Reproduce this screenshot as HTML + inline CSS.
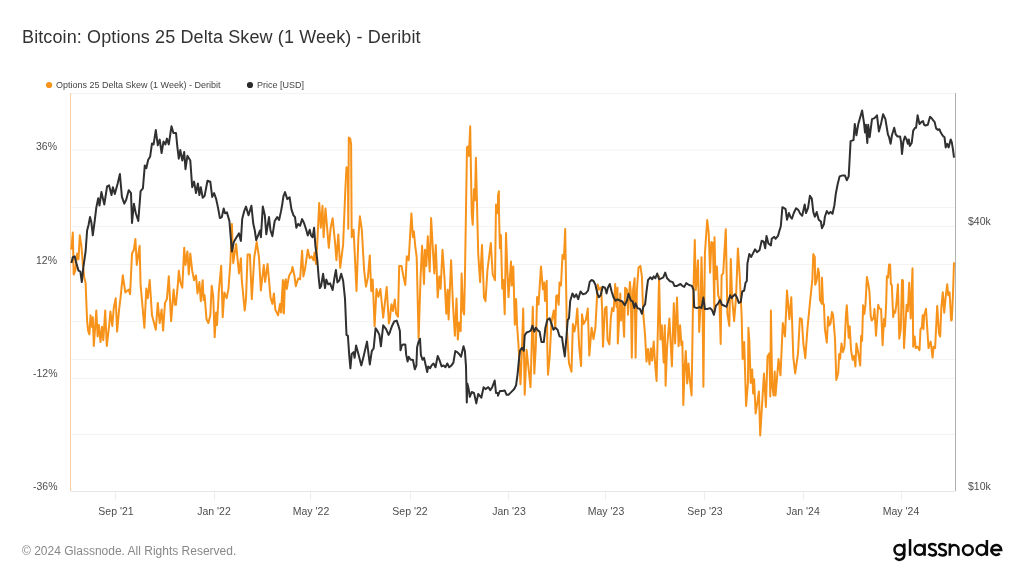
<!DOCTYPE html>
<html><head><meta charset="utf-8"><style>
html,body{margin:0;padding:0;background:#fff;}
body{width:1024px;height:576px;position:relative;overflow:hidden;font-family:"Liberation Sans",sans-serif;}
.t{position:absolute;white-space:nowrap;line-height:1;will-change:transform;}
</style></head><body>
<svg width="1024" height="576" viewBox="0 0 1024 576" style="position:absolute;left:0;top:0"><g stroke="#f3f3f3" stroke-width="1"><line x1="70.5" y1="93.5" x2="955.5" y2="93.5"/><line x1="70.5" y1="150.0" x2="955.5" y2="150.0"/><line x1="70.5" y1="207.5" x2="955.5" y2="207.5"/><line x1="70.5" y1="226.5" x2="955.5" y2="226.5"/><line x1="70.5" y1="264.5" x2="955.5" y2="264.5"/><line x1="70.5" y1="321.5" x2="955.5" y2="321.5"/><line x1="70.5" y1="359.5" x2="955.5" y2="359.5"/><line x1="70.5" y1="378.5" x2="955.5" y2="378.5"/><line x1="70.5" y1="434.5" x2="955.5" y2="434.5"/></g><line x1="70.5" y1="491.5" x2="955.5" y2="491.5" stroke="#e6e6e6" stroke-width="1"/><line x1="115.5" y1="492" x2="115.5" y2="500" stroke="#eeeeee" stroke-width="1"/><line x1="214.5" y1="492" x2="214.5" y2="500" stroke="#eeeeee" stroke-width="1"/><line x1="310.5" y1="492" x2="310.5" y2="500" stroke="#eeeeee" stroke-width="1"/><line x1="410.5" y1="492" x2="410.5" y2="500" stroke="#eeeeee" stroke-width="1"/><line x1="508.5" y1="492" x2="508.5" y2="500" stroke="#eeeeee" stroke-width="1"/><line x1="605.5" y1="492" x2="605.5" y2="500" stroke="#eeeeee" stroke-width="1"/><line x1="704.5" y1="492" x2="704.5" y2="500" stroke="#eeeeee" stroke-width="1"/><line x1="803.5" y1="492" x2="803.5" y2="500" stroke="#eeeeee" stroke-width="1"/><line x1="901.5" y1="492" x2="901.5" y2="500" stroke="#eeeeee" stroke-width="1"/><line x1="70.5" y1="93" x2="70.5" y2="491" stroke="#fbcf9f" stroke-width="1"/><line x1="955.5" y1="93" x2="955.5" y2="491" stroke="#b0b0b0" stroke-width="1"/><polyline fill="none" stroke="#f7931a" stroke-width="2" stroke-linejoin="round" points="71.4,249.7 72.8,232.5 73.7,274.5 75.3,270.7 77.2,253.5 78.5,259.2 79.8,235.3 81.4,245.8 82.9,264.9 84.2,277.2 85.6,282.9 87.1,321.1 88.1,330.6 89.4,334.4 90.5,315.3 91.9,326.8 92.8,317.3 93.8,345.9 96.3,310.6 97.6,336.4 98.9,324.9 100.5,342.1 102.0,326.8 103.3,340.2 105.2,310.6 106.8,345.9 109.1,325.9 110.4,311.5 112.3,325.9 113.8,307.7 115.7,298.2 117.1,331.6 119.2,308.7 120.5,298.2 122.8,275.2 125.3,292.4 128.7,289.6 130.1,294.3 132.0,253.5 133.9,249.7 135.4,239.1 136.8,264.9 139.6,245.8 140.6,284.8 144.4,327.8 146.3,288.6 147.8,298.2 149.7,280.0 152.0,315.3 155.8,329.7 157.8,302.9 159.7,323.0 161.6,309.6 163.1,330.6 165.0,302.9 166.9,299.1 168.8,276.2 171.1,321.1 173.6,289.6 175.0,304.8 175.9,304.8 177.9,283.8 178.8,270.7 180.3,281.9 182.3,287.7 184.2,247.7 185.5,264.9 187.4,251.6 188.8,274.5 190.3,253.5 192.2,270.7 194.1,280.2 196.0,275.4 197.5,293.4 199.4,282.1 200.8,301.2 202.7,280.2 203.6,300.1 204.6,295.3 206.5,319.2 208.4,323.0 210.3,315.3 211.7,285.7 213.2,296.2 214.7,337.3 216.1,312.5 217.0,324.9 218.9,290.5 221.2,265.7 222.7,317.3 224.3,292.4 226.6,298.2 228.5,288.6 230.4,261.9 231.9,223.9 233.2,263.0 236.1,243.9 239.0,273.5 240.9,258.2 241.8,280.2 244.7,310.6 246.0,299.1 247.6,254.4 249.9,254.4 251.8,299.1 254.3,257.3 256.7,242.0 259.0,257.3 260.9,290.5 263.8,264.9 265.1,281.9 267.6,264.0 270.5,297.2 272.4,303.9 273.9,293.4 275.3,309.6 278.1,315.3 280.0,303.9 281.0,312.5 282.9,280.0 283.5,312.9 283.9,313.4 284.9,281.4 285.0,282.9 285.8,279.3 286.8,289.0 288.7,277.6 289.6,274.5 291.5,271.9 292.5,266.9 294.4,275.5 295.8,286.2 298.2,278.4 300.1,279.3 302.1,250.7 303.4,276.4 304.9,269.8 307.8,249.7 309.7,258.3 311.6,256.4 313.5,260.2 314.5,252.6 316.0,264.0 317.3,243.0 319.2,202.9 320.8,227.7 322.5,205.8 323.6,237.3 325.5,208.6 328.8,247.8 330.7,227.7 332.6,218.2 335.1,243.0 336.4,260.2 338.3,234.4 340.2,267.8 343.1,244.9 345.4,188.2 346.5,167.2 347.9,168.2 348.3,228.7 348.8,137.6 350.2,138.6 351.1,144.3 351.7,237.3 353.6,229.7 356.5,291.0 358.4,237.3 359.9,216.3 361.8,229.7 364.1,269.8 366.0,286.6 367.9,277.4 369.8,255.4 371.2,291.0 372.7,279.5 374.6,326.3 376.5,289.0 378.4,296.7 380.4,289.0 383.2,317.7 386.7,287.1 388.9,323.4 390.0,318.6 390.9,308.1 391.5,304.3 392.9,311.0 394.8,299.5 396.1,313.8 398.0,316.7 399.2,265.9 401.5,265.9 403.4,276.4 405.3,285.0 406.8,256.3 408.7,260.2 411.4,213.4 412.9,237.2 413.9,231.5 415.2,245.8 416.7,257.3 418.6,338.6 420.6,276.4 422.1,245.8 424.0,284.0 424.9,249.7 426.3,265.9 427.8,236.3 429.7,271.6 431.1,218.1 433.0,251.6 434.3,273.5 435.8,244.9 437.7,297.4 439.3,276.4 440.6,288.8 442.5,249.7 444.4,276.4 446.3,313.8 447.7,289.8 448.6,319.5 451.1,260.2 453.0,305.2 454.9,335.8 456.5,298.5 457.8,339.6 459.3,322.4 460.7,331.0 461.6,273.5 463.0,310.0 464.1,314.6 464.9,278.3 467.0,147.3 468.3,146.3 468.9,155.9 470.2,126.3 471.7,213.2 472.7,224.8 474.0,189.3 475.0,200.2 475.9,157.8 478.2,253.5 480.1,282.1 482.0,244.9 484.0,297.4 485.5,301.2 487.4,270.7 490.8,243.0 492.7,274.5 495.0,280.2 496.0,204.6 497.9,213.2 498.0,195.7 498.9,191.2 499.0,212.9 499.9,248.2 500.9,234.9 502.2,288.4 503.3,279.9 504.7,314.3 506.0,233.0 507.2,266.4 508.5,297.1 511.0,261.6 511.8,285.5 513.3,266.4 514.8,324.8 516.1,299.0 517.1,325.8 518.6,346.8 520.5,384.2 521.9,349.8 523.2,308.6 524.7,394.7 526.6,349.8 528.6,368.9 530.5,387.1 532.8,306.7 534.3,373.7 535.8,346.8 537.1,296.9 538.5,304.6 541.0,266.4 542.9,289.3 544.2,282.6 545.0,301.0 546.7,280.7 547.3,346.8 548.0,374.7 549.6,357.5 551.5,322.0 553.8,310.5 555.3,327.7 556.2,296.0 557.2,295.2 558.7,304.8 559.5,282.6 561.0,285.5 562.5,254.9 563.9,258.8 565.2,229.1 566.8,327.7 569.0,363.2 571.5,371.8 572.9,323.9 574.4,331.5 575.9,323.9 577.3,308.6 579.2,346.8 581.1,366.1 582.0,314.3 583.6,323.9 585.8,320.1 587.8,308.6 589.3,355.6 591.6,327.7 593.5,339.1 595.4,327.7 596.9,299.0 597.7,284.5 599.2,289.5 601.1,287.4 602.1,308.6 603.0,346.8 604.9,308.6 606.0,307.1 606.5,306.7 607.5,339.6 609.4,344.4 610.8,318.6 612.1,308.1 613.6,311.0 615.2,284.0 615.9,301.4 616.5,306.9 617.5,287.8 617.8,343.4 619.4,314.8 620.3,293.6 620.9,320.5 622.2,301.4 624.1,336.7 625.1,287.8 627.0,289.8 628.0,314.8 629.9,282.1 630.8,291.7 631.8,357.7 633.1,289.9 634.6,278.3 635.6,357.7 636.9,289.9 638.5,267.8 640.4,265.9 641.9,276.4 643.2,312.9 645.1,335.8 646.5,361.6 648.0,349.1 649.5,364.4 650.9,348.2 652.2,360.6 653.7,341.5 655.3,366.3 656.6,381.0 657.9,328.1 659.1,276.4 660.4,339.6 661.8,325.3 663.7,362.5 664.8,325.3 665.6,385.8 667.1,347.2 669.4,318.6 671.9,366.3 673.8,303.3 675.1,343.4 677.0,297.6 678.6,346.3 680.1,325.3 681.4,345.3 682.4,341.5 683.3,404.9 684.7,366.3 685.8,351.1 687.2,383.5 688.5,363.5 690.0,381.6 691.6,395.4 692.9,309.0 694.8,240.1 695.8,289.9 696.7,282.1 698.0,260.2 699.2,332.0 700.5,305.2 701.5,257.3 702.4,289.9 703.4,386.8 704.9,253.5 707.2,220.1 708.7,232.5 710.1,272.6 711.4,242.0 712.9,243.0 714.4,311.6 714.5,237.2 715.5,279.1 716.9,266.5 718.2,295.3 719.3,298.2 720.7,344.0 721.6,275.1 723.2,273.4 724.5,250.5 725.8,229.3 727.4,313.5 729.3,325.9 730.8,258.9 732.1,298.2 734.1,321.1 736.0,298.2 737.9,248.4 739.8,277.2 741.7,317.3 742.6,359.1 744.2,342.1 746.1,405.9 748.0,382.0 748.4,327.8 749.3,340.0 750.7,383.0 752.2,369.6 753.1,393.5 754.1,379.2 755.6,413.5 757.0,404.9 758.9,391.6 760.2,435.5 761.7,410.7 764.0,373.4 765.9,406.9 767.5,356.2 769.4,353.4 770.3,396.4 770.9,310.6 772.2,385.9 773.6,395.4 774.7,371.5 775.5,395.4 777.0,378.2 778.5,359.1 780.5,375.3 782.8,323.0 785.0,336.4 787.0,290.6 789.4,319.2 791.3,297.2 793.3,357.2 795.2,373.4 798.0,353.4 799.9,318.2 801.8,319.2 803.4,344.0 805.3,358.2 807.6,326.8 809.1,311.6 810.4,298.2 812.4,279.1 813.3,254.1 814.8,256.9 815.2,284.8 816.7,280.1 818.1,268.4 819.0,273.2 820.0,300.1 821.9,303.9 822.0,277.8 823.0,303.4 823.9,304.4 824.9,329.2 826.8,342.6 828.1,316.8 829.3,325.4 830.6,323.5 831.9,312.0 833.1,314.9 835.0,338.8 836.3,380.0 838.2,373.1 839.2,354.0 840.1,358.8 841.5,343.5 843.0,352.1 844.5,346.4 845.9,315.8 846.8,305.3 848.7,337.8 849.7,326.3 851.0,349.3 852.6,359.8 854.1,355.9 855.4,366.4 856.4,343.5 858.3,353.1 860.2,365.5 861.1,335.9 862.1,340.7 863.1,305.3 864.4,313.9 865.5,304.4 866.9,276.9 868.2,283.6 869.4,291.0 870.7,315.8 871.7,320.6 873.6,317.7 874.5,309.1 876.0,335.8 878.2,304.7 879.2,308.3 881.1,309.1 882.6,345.2 884.0,319.0 885.0,326.3 886.2,302.5 886.9,276.2 888.0,277.7 889.1,264.6 890.1,264.6 890.9,284.3 891.8,285.0 893.2,317.1 894.2,311.2 895.2,312.7 896.4,304.0 897.9,284.3 899.3,338.7 900.8,328.5 902.0,279.9 903.0,280.6 904.0,348.1 906.6,304.7 907.8,311.2 909.2,282.8 910.7,318.5 912.5,268.2 913.2,346.7 914.6,336.5 915.7,348.1 917.6,346.7 919.5,350.3 920.5,329.2 921.9,327.0 922.7,315.3 923.4,329.2 924.1,316.1 926.0,308.8 928.5,348.1 930.7,341.6 932.6,357.6 933.6,346.7 935.1,348.1 937.2,305.9 939.0,333.6 940.2,336.5 941.3,308.3 942.8,292.3 944.2,312.7 945.7,296.7 947.2,284.3 948.2,295.2 949.6,292.3 951.1,320.4 951.8,320.0 953.0,293.8 954.0,262.4"/><polyline fill="none" stroke="#303030" stroke-width="2" stroke-linejoin="round" points="71.4,263.0 72.8,257.2 74.7,256.3 76.0,262.0 78.5,270.6 80.4,271.6 81.8,282.1 83.3,267.7 85.6,251.5 87.1,230.5 88.6,224.8 90.0,217.1 91.3,221.9 92.8,235.3 94.7,221.0 96.3,207.6 98.2,198.2 99.5,205.5 101.4,192.1 104.3,204.5 107.1,186.4 109.1,185.4 111.5,195.0 112.9,187.3 114.8,194.0 117.7,183.5 119.9,174.0 121.9,196.9 124.3,203.6 126.2,199.8 128.7,190.2 131.0,193.1 132.0,222.9 133.9,203.8 135.8,213.3 138.3,221.0 140.6,191.2 142.9,188.3 144.8,165.4 146.3,168.2 148.2,159.7 150.1,156.8 152.0,143.4 153.6,144.4 155.8,130.1 157.8,145.3 159.7,139.6 161.6,153.0 163.5,141.5 165.4,144.4 166.9,138.6 168.8,144.4 171.5,126.2 173.4,132.9 175.9,132.9 176.0,132.9 177.3,146.3 178.8,158.7 180.3,150.1 182.3,160.6 184.2,152.0 185.5,169.2 187.4,155.8 190.3,160.6 192.2,187.3 194.1,181.6 196.0,193.1 197.9,183.5 199.4,195.0 200.8,187.3 202.7,197.8 204.6,195.9 207.5,180.7 210.3,181.6 212.2,196.9 214.1,193.1 216.1,198.8 218.0,207.6 219.9,218.1 221.8,217.1 223.7,208.5 225.0,213.3 226.9,212.4 229.4,221.0 230.8,238.1 231.9,251.5 233.8,242.0 236.1,238.1 239.0,233.4 240.9,241.0 242.2,219.0 244.1,211.4 246.0,206.6 248.5,215.2 251.4,205.7 253.3,223.8 254.8,230.5 256.2,240.1 258.1,235.3 260.0,230.5 260.9,237.2 262.8,206.6 264.8,215.2 266.3,234.3 269.0,217.1 270.5,230.5 272.4,236.2 274.7,221.0 277.2,217.1 279.1,220.0 281.0,211.4 282.0,205.8 283.5,195.9 283.9,195.3 285.0,192.1 285.4,193.4 287.3,199.1 289.6,197.2 291.5,209.6 293.5,215.3 295.0,217.2 296.3,227.7 298.2,223.9 300.1,225.8 302.1,219.1 304.0,223.0 305.9,228.7 307.8,235.4 309.7,229.7 311.0,235.4 312.6,237.3 314.1,227.7 315.4,245.9 317.3,260.2 318.7,277.6 319.8,288.1 321.1,286.2 323.1,273.8 325.0,288.1 326.3,279.5 328.2,284.3 330.1,283.3 332.6,290.0 334.5,277.6 335.9,269.9 337.4,282.4 339.3,280.5 341.2,273.8 343.1,280.5 345.0,298.6 346.5,334.9 347.9,335.8 349.2,354.9 350.4,368.3 351.7,354.0 353.6,352.1 354.6,357.8 356.1,345.4 358.4,354.0 361.3,365.4 363.7,355.9 367.0,341.6 369.8,364.5 371.8,351.1 373.7,348.2 375.6,328.2 377.5,331.1 379.4,334.9 380.9,346.3 383.2,325.3 386.1,329.1 388.6,334.9 390.0,332.0 390.5,330.1 391.9,326.3 394.2,321.5 396.7,320.6 398.6,326.3 399.9,331.1 400.5,350.2 401.8,345.4 403.4,344.4 405.3,344.4 406.2,354.9 407.6,361.6 408.7,356.8 410.6,359.7 412.9,359.7 414.8,369.3 416.4,365.4 417.1,347.3 418.6,341.6 420.0,338.7 420.9,354.9 422.5,359.7 424.0,357.8 425.3,363.5 427.2,372.1 428.2,366.4 430.1,368.3 431.6,365.4 433.5,363.5 435.5,367.3 437.7,355.9 439.7,360.7 441.6,366.4 443.5,365.4 445.4,367.3 447.3,363.5 449.2,367.3 451.5,365.4 453.4,362.6 455.3,351.1 457.2,352.1 459.1,354.0 461.0,356.8 463.5,346.3 464.9,351.1 466.0,366.4 466.8,402.5 467.3,383.4 468.7,389.1 469.8,396.8 471.7,392.0 474.0,392.9 476.3,403.4 478.2,393.9 481.3,397.7 483.6,387.2 485.5,389.1 488.4,387.2 490.3,390.1 492.2,387.2 494.7,380.5 496.0,392.9 497.9,392.9 498.0,395.7 499.9,391.0 502.8,391.0 504.7,390.4 506.6,394.8 508.5,394.8 511.4,391.9 514.2,389.0 516.1,385.2 517.5,374.7 519.0,359.4 520.0,350.7 521.9,347.8 523.8,350.7 524.7,335.4 526.6,332.5 528.9,331.6 530.8,330.6 532.4,325.8 534.3,331.6 535.8,327.7 538.1,330.6 539.6,331.6 541.5,342.1 543.8,342.1 545.4,327.7 547.3,320.1 549.6,318.2 551.5,323.9 553.4,329.7 555.3,327.7 557.6,329.7 559.5,336.3 562.0,337.3 563.3,346.8 564.8,356.4 566.4,337.3 567.7,320.1 569.0,318.2 570.2,301.0 572.5,293.4 574.4,297.2 576.3,294.3 578.2,299.1 580.5,291.5 583.0,294.3 585.8,293.4 588.1,290.5 589.7,281.9 591.6,280.0 593.5,281.0 595.4,284.8 597.3,293.4 598.8,297.2 600.7,295.3 602.7,286.7 604.9,287.6 606.0,290.7 606.5,293.4 607.9,287.8 609.8,284.0 611.7,291.7 613.6,297.6 615.5,300.8 617.5,299.3 619.8,300.5 622.2,301.4 624.7,305.2 627.0,300.5 628.5,293.8 630.8,300.5 632.7,301.4 634.3,308.1 635.6,303.3 637.5,308.1 640.0,309.0 641.9,313.8 643.2,307.1 645.1,304.3 646.5,291.7 648.0,280.2 650.3,277.3 652.2,279.3 653.7,276.4 655.3,278.3 657.2,273.5 659.1,279.3 661.4,278.3 663.3,277.3 665.2,272.6 667.1,278.3 670.0,281.2 672.8,282.1 674.4,285.9 677.0,285.9 680.5,284.0 682.4,285.9 684.3,286.9 686.2,283.1 689.1,285.0 691.9,285.9 693.5,289.8 694.2,307.1 696.7,308.1 699.6,307.1 701.5,308.1 703.4,297.6 704.9,309.0 707.2,309.0 710.1,308.1 712.0,310.0 713.9,314.8 714.0,314.4 715.9,305.8 717.8,303.9 720.1,300.1 722.0,304.8 724.5,305.8 726.4,306.7 728.3,301.0 730.2,295.3 731.6,298.1 733.1,296.2 735.0,294.3 736.9,297.2 738.8,302.9 740.7,302.0 742.3,291.5 744.2,290.5 745.5,282.9 746.8,281.0 747.4,263.6 749.3,254.0 751.2,256.9 753.1,253.1 755.1,249.3 757.0,252.1 759.5,250.2 761.7,240.7 763.7,241.6 765.2,248.3 766.5,235.9 768.4,243.5 770.9,245.4 771.7,238.8 774.2,236.8 775.5,238.8 778.0,235.9 779.3,231.1 780.8,226.3 782.4,207.2 784.3,208.2 785.6,209.1 787.0,219.7 788.9,213.0 790.4,216.8 791.9,218.7 793.8,213.0 796.1,208.2 798.4,210.1 800.3,213.9 802.2,215.8 804.7,204.4 806.0,213.0 808.0,208.2 809.9,195.8 811.8,198.6 813.3,212.0 814.8,216.8 816.7,212.0 818.7,219.7 820.9,221.6 821.9,228.2 823.9,224.3 824.9,216.7 826.8,211.0 828.7,213.8 830.6,211.9 832.5,213.8 834.4,205.2 835.8,193.8 837.7,184.0 839.6,176.4 842.6,175.4 844.9,175.4 846.8,180.2 848.7,176.4 850.6,141.1 853.5,140.1 854.8,123.9 856.4,135.3 858.3,123.9 860.2,117.2 862.1,110.5 864.0,122.9 865.0,132.5 865.9,124.8 867.3,143.0 868.2,124.8 869.7,137.2 872.0,119.1 874.5,118.1 877.0,115.3 878.9,131.5 881.2,122.9 883.1,114.3 885.4,119.1 887.9,134.4 889.1,137.2 890.6,143.8 892.0,135.0 894.2,127.7 895.7,134.3 897.6,136.5 900.1,136.5 901.1,142.3 902.0,154.0 903.4,141.6 904.9,136.5 906.6,139.4 907.8,143.8 908.8,139.4 909.8,145.9 911.7,143.0 913.2,130.6 915.1,127.7 916.1,127.7 917.6,115.3 919.5,124.1 921.5,121.9 923.0,121.1 924.1,124.8 925.6,125.5 927.8,124.8 930.0,116.8 931.7,118.2 933.2,120.4 934.6,121.9 936.1,128.4 938.0,129.9 939.4,129.2 940.9,132.8 942.8,135.7 944.5,137.2 945.7,147.4 947.2,143.8 948.6,147.4 950.7,139.4 951.8,142.3 953.0,149.6 954.0,157.6"/><circle cx="49.1" cy="85" r="3.1" fill="#f7931a"/><circle cx="250" cy="85" r="3.1" fill="#2b2b2b"/><g fill="none" stroke="#0a0a0a" stroke-width="2.5">
<circle cx="899.35" cy="549.8" r="4.9"/>
<path d="M904.3,543.6 V555 A4.9,4.9 0 0 1 895.3,557.6"/>
<path d="M910.05,539.1 V555.8"/>
<circle cx="919.5" cy="549.8" r="4.9"/>
<path d="M924.6,543.6 V555.8"/>
<path d="M936,545.6 C935,544.4 933.8,544 932.4,544 C930.3,544 929.1,545.1 929.1,546.6 C929.1,548.4 930.8,549.1 932.5,549.6 C934.4,550.1 936,550.9 936,552.8 C936,554.5 934.5,555.5 932.4,555.5 C930.7,555.5 929.3,554.8 928.5,553.6"/>
<path d="M946,545.6 C945,544.4 943.8,544 942.4,544 C940.3,544 939.1,545.1 939.1,546.6 C939.1,548.4 940.8,549.1 942.5,549.6 C944.4,550.1 946,550.9 946,552.8 C946,554.5 944.5,555.5 942.4,555.5 C940.7,555.5 939.3,554.8 938.5,553.6"/>
<path d="M949.85,543.6 V555.8 M949.85,549.4 A4.3,4.3 0 0 1 958.45,549.4 V555.8"/>
<circle cx="967.85" cy="550.1" r="4.9"/>
<circle cx="981.5" cy="550" r="4.9"/>
<path d="M986.9,540 V555.8"/>
<path d="M991.35,550 H1001.25 A4.95,4.95 0 1 0 999.8,553.5"/>
</g></svg>
<div class="t" id="title" style="left:22px;top:27.5px;font-size:18px;letter-spacing:0.12px;color:#333;">Bitcoin: Options 25 Delta Skew (1 Week) - Deribit</div>
<div class="t" style="left:55.6px;top:80.6px;font-size:9px;color:#444;">Options 25 Delta Skew (1 Week) - Deribit</div>
<div class="t" style="left:256.6px;top:80.6px;font-size:9px;color:#444;">Price [USD]</div>
<div class="t" style="right:966.6px;top:141px;font-size:10.5px;color:#4d4d4d;">36%</div>
<div class="t" style="right:966.6px;top:255px;font-size:10.5px;color:#4d4d4d;">12%</div>
<div class="t" style="right:966.6px;top:368px;font-size:10.5px;color:#4d4d4d;">-12%</div>
<div class="t" style="right:966.6px;top:481px;font-size:10.5px;color:#4d4d4d;">-36%</div>
<div class="t" style="left:968px;top:216px;font-size:10.5px;color:#4d4d4d;">$40k</div>
<div class="t" style="left:968px;top:481px;font-size:10.5px;color:#4d4d4d;">$10k</div>
<div class="t" style="left:75.5px;width:80px;text-align:center;top:506px;font-size:10.5px;color:#4d4d4d;">Sep '21</div><div class="t" style="left:174.0px;width:80px;text-align:center;top:506px;font-size:10.5px;color:#4d4d4d;">Jan '22</div><div class="t" style="left:270.9px;width:80px;text-align:center;top:506px;font-size:10.5px;color:#4d4d4d;">May '22</div><div class="t" style="left:370.2px;width:80px;text-align:center;top:506px;font-size:10.5px;color:#4d4d4d;">Sep '22</div><div class="t" style="left:468.7px;width:80px;text-align:center;top:506px;font-size:10.5px;color:#4d4d4d;">Jan '23</div><div class="t" style="left:565.6px;width:80px;text-align:center;top:506px;font-size:10.5px;color:#4d4d4d;">May '23</div><div class="t" style="left:664.9px;width:80px;text-align:center;top:506px;font-size:10.5px;color:#4d4d4d;">Sep '23</div><div class="t" style="left:763.4px;width:80px;text-align:center;top:506px;font-size:10.5px;color:#4d4d4d;">Jan '24</div><div class="t" style="left:861.1px;width:80px;text-align:center;top:506px;font-size:10.5px;color:#4d4d4d;">May '24</div>
<div class="t" style="left:21.7px;top:545px;font-size:12px;color:#888;">© 2024 Glassnode. All Rights Reserved.</div>
</body></html>
